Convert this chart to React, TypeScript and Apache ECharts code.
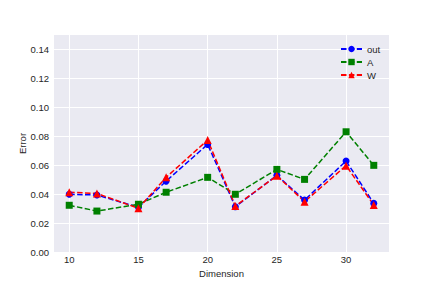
import React, { useEffect, useRef } from "react";
import * as echarts from "echarts";

const dims = [10, 12, 15, 17, 20, 22, 25, 27, 30, 32];
const outVals = [0.0399, 0.0394, 0.0309, 0.049, 0.0744, 0.0313, 0.053, 0.0359, 0.0629, 0.0336];
const aVals = [0.0323, 0.0283, 0.033, 0.0413, 0.0516, 0.0399, 0.0571, 0.0502, 0.0831, 0.0599];
const wVals = [0.0413, 0.0405, 0.0302, 0.0516, 0.0774, 0.0318, 0.0527, 0.0348, 0.0597, 0.0325];

const FONT = "Liberation Sans, Arial, sans-serif";
const TXT = "#262626";

const mk = (vals: number[]) => dims.map((d, i) => [d, vals[i]]);

export default function App() {
  const ref = useRef<HTMLDivElement>(null);
  useEffect(() => {
    if (!ref.current) return;
    const chart = echarts.init(ref.current, undefined, { renderer: "svg" });
    const line = (name: string, color: string, symbol: string, vals: number[], size: number) => ({
      name,
      type: "line",
      data: mk(vals),
      symbol,
      symbolSize: size,
      itemStyle: { color },
      lineStyle: { color, width: 1.5, type: [5.5, 2.4] },
      z: 3,
    });
    chart.setOption({
      animation: false,
      backgroundColor: "#ffffff",
      textStyle: { fontFamily: FONT },
      grid: {
        left: 54,
        right: 43,
        top: 35,
        bottom: 36,
        show: true,
        backgroundColor: "#EAEAF2",
        borderWidth: 0,
      },
      legend: {
        orient: "vertical",
        left: 335,
        top: 39,
        itemWidth: 21,
        itemHeight: 8,
        itemGap: 3,
        textStyle: { fontSize: 9.5, color: TXT, fontFamily: FONT },
        data: ["out", "A", "W"],
      },
      xAxis: {
        type: "value",
        min: 8.9,
        max: 33.1,
        name: "Dimension",
        nameLocation: "middle",
        nameGap: 16,
        nameMoveOverlap: false,
        nameTextStyle: { fontSize: 9.5, color: TXT },
        axisLine: { show: false },
        axisTick: { show: false },
        axisLabel: {
          fontSize: 9.5,
          color: TXT,
          margin: 2,
          formatter: (v: number) => (Math.abs(v % 5) < 1e-9 ? String(v) : ""),
        },
        splitLine: { show: true, showMinLine: false, showMaxLine: false, lineStyle: { color: "#ffffff", width: 1 } },
      },
      yAxis: {
        type: "value",
        min: 0,
        max: 0.15,
        interval: 0.02,
        name: "Error",
        nameLocation: "middle",
        nameGap: 27,
        nameMoveOverlap: false,
        nameTextStyle: { fontSize: 9.5, color: TXT },
        axisLine: { show: false },
        axisTick: { show: false },
        axisLabel: {
          fontSize: 9.5,
          color: TXT,
          margin: 5,
          showMaxLabel: false,
          formatter: (v: number) => v.toFixed(2),
        },
        splitLine: { show: true, showMaxLine: false, lineStyle: { color: "#ffffff", width: 1 } },
      },
      series: [
        line("out", "#0000FF", "circle", outVals, 7),
        line("A", "#008000", "rect", aVals, 7),
        line("W", "#FF0000", "triangle", wVals, 8),
      ],
    });
    return () => chart.dispose();
  }, []);
  return <div ref={ref} style={{ position: "fixed", left: 0, top: 0, width: 432, height: 288 }} />;
}
